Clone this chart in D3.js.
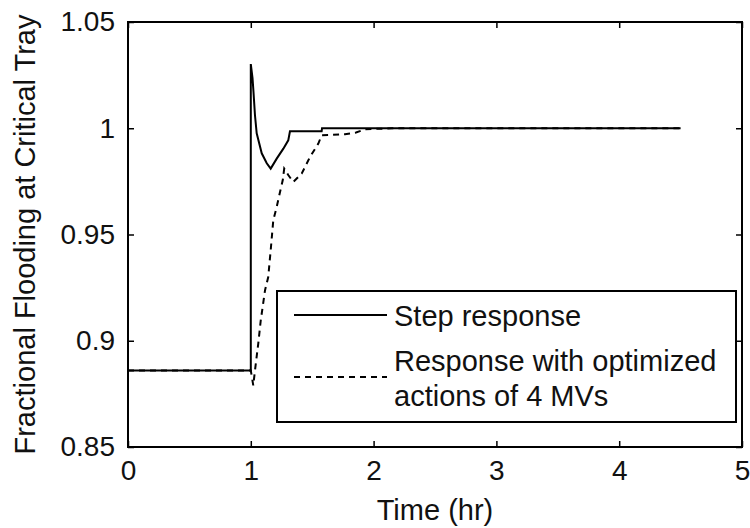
<!DOCTYPE html>
<html>
<head>
<meta charset="utf-8">
<script src="https://cdn.jsdelivr.net/npm/d3@7"></script>
<style>
  body { margin: 0; background: #fff; }
  text { font-family: "Liberation Sans", Arial, sans-serif; fill: #111; }
</style>
</head>
<body>
<div id="chart"></div>
<script>
// series (time in hr, fraction of flooding)
var stepTime = [0, 1.0, 1.0, 1.014, 1.022, 1.034, 1.048, 1.089, 1.13, 1.162, 1.211, 1.265, 1.305, 1.319, 1.577, 1.58, 4.5]
var stepValue = [0.886, 0.886, 1.0302, 1.0236, 1.017, 1.0061, 0.9976, 0.9882, 0.9835, 0.981, 0.9857, 0.9904, 0.9943, 0.9986, 0.9986, 1.0, 1.0]

var optTime = [0, 1.0, 1.02, 1.034, 1.061, 1.081, 1.116, 1.142, 1.162, 1.183, 1.211, 1.238, 1.26, 1.272, 1.305, 1.346, 1.415, 1.482, 1.55, 1.577, 1.767, 1.857, 1.93, 2.15, 4.5]
var optValue = [0.886, 0.886, 0.879, 0.886, 0.8988, 0.9096, 0.9238, 0.930, 0.9426, 0.9567, 0.963, 0.970, 0.9755, 0.981, 0.978, 0.9747, 0.9787, 0.9865, 0.9928, 0.9967, 0.9972, 0.998, 0.9995, 1.0, 1.0]

var xTicks = [0, 1, 2, 3, 4, 5]
var yTicks = [0.85, 0.9, 0.95, 1, 1.05]
var legendLabels = [['Step response'], ['Response with optimized', 'actions of 4 MVs']]

var width = 750
    height = 528
    margin = {top: 22, right: 8, bottom: 81, left: 128}

var svg = d3.select('#chart')
  .append('svg')
    .attr('width', width)
    .attr('height', height)

var x = d3.scaleLinear().domain([0, 5]).range([margin.left, width - margin.right])
var y = d3.scaleLinear().domain([0.85, 1.05]).range([height - margin.bottom, margin.top])

var tickFmt = function(d) { return d3.format('')(+d.toFixed(2)) }

// axes with inward ticks on all four sides
svg.append('g')
  .attr('transform', 'translate(0,' + y.range()[0] + ')')
  .call(d3.axisBottom(x).tickValues(xTicks).tickSizeInner(-6).tickSizeOuter(0).tickPadding(13).tickFormat(tickFmt))
  .attr('class', 'xaxis')
svg.append('g')
  .attr('transform', 'translate(0,' + y.range()[1] + ')')
  .call(d3.axisTop(x).tickValues(xTicks).tickSizeInner(-6).tickSizeOuter(0).tickFormat(''))
svg.append('g')
  .attr('transform', 'translate(' + x.range()[0] + ',0)')
  .call(d3.axisLeft(y).tickValues(yTicks).tickSizeInner(-6).tickSizeOuter(0).tickPadding(13).tickFormat(tickFmt))
  .attr('class', 'yaxis')
svg.append('g')
  .attr('transform', 'translate(' + x.range()[1] + ',0)')
  .call(d3.axisRight(y).tickValues(yTicks).tickSizeInner(-6).tickSizeOuter(0).tickFormat(''))

svg.selectAll('.domain').remove()
svg.selectAll('.tick line').attr('stroke', '#000').attr('stroke-width', 1.5)
svg.selectAll('.tick text').style('font-size', '28px').attr('fill', '#111')
svg.selectAll('.xaxis .tick text').attr('dy', '0.71em')

// box around the plot area
svg.append('rect')
  .attr('x', x.range()[0])
  .attr('y', y.range()[1])
  .attr('width', x.range()[1] - x.range()[0])
  .attr('height', y.range()[0] - y.range()[1])
  .attr('fill', 'none')
  .attr('stroke', '#000')
  .attr('stroke-width', 2)

var line = d3.line()
  .x(function(d) { return x(d[0]) })
  .y(function(d) { return y(d[1]) })

var stepData = stepTime.map(function(t, i) { return [t, stepValue[i]] })
var optData = optTime.map(function(t, i) { return [t, optValue[i]] })

svg.append('path')
  .attr('d', line(optData))
  .attr('fill', 'none')
  .attr('stroke', '#000')
  .attr('stroke-width', 2)
  .attr('stroke-dasharray', '6,5')

svg.append('path')
  .attr('d', line(stepData))
  .attr('fill', 'none')
  .attr('stroke', '#000')
  .attr('stroke-width', 2)

// axis labels
svg.append('text')
  .attr('x', (x.range()[0] + x.range()[1]) / 2)
  .attr('y', 520)
  .attr('text-anchor', 'middle')
  .style('font-size', '29px')
  .text('Time (hr)')

svg.append('text')
  .attr('transform', 'translate(35,' + (y.range()[0] + y.range()[1]) / 2 + ') rotate(-90)')
  .attr('text-anchor', 'middle')
  .style('font-size', '29px')
  .text('Fractional Flooding at Critical Tray')

// legend
var legend = svg.append('g')
legend.append('rect')
  .attr('x', 277)
  .attr('y', 291)
  .attr('width', 459)
  .attr('height', 131)
  .attr('fill', '#fff')
  .attr('stroke', '#000')
  .attr('stroke-width', 2)

var legendRows = [315, 377]
legendLabels.forEach(function(lines, i) {
  legend.append('line')
    .attr('x1', 294).attr('x2', 387)
    .attr('y1', legendRows[i]).attr('y2', legendRows[i])
    .attr('stroke', '#000')
    .attr('stroke-width', 2)
    .attr('stroke-dasharray', i == 1 ? '6,5' : null)
  var t = legend.append('text')
    .attr('x', 394)
    .attr('y', i == 0 ? 326 : 371)
    .style('font-size', '29px')
  lines.forEach(function(s, j) {
    t.append('tspan').attr('x', 394).attr('dy', j == 0 ? 0 : 35).text(s)
  })
})
</script>
</body>
</html>
